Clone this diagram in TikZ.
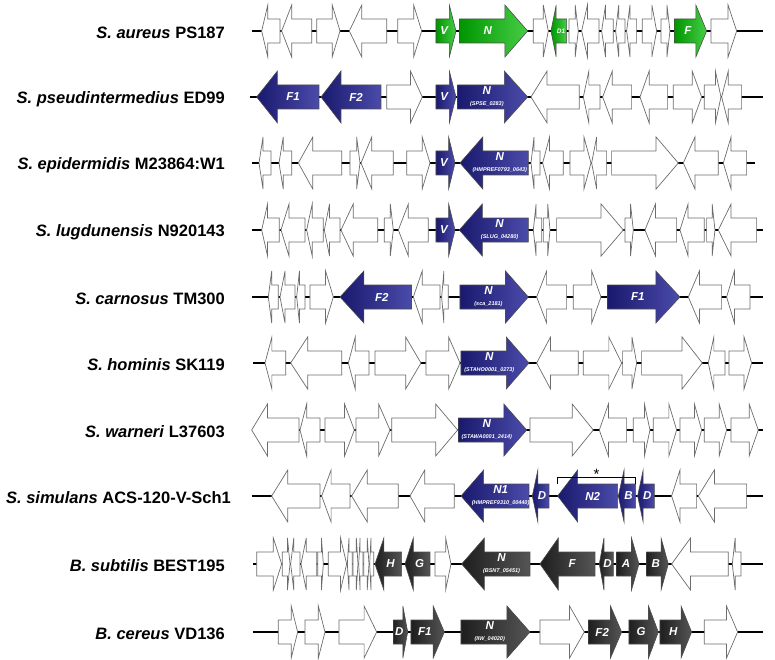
\documentclass[tikz,border=0pt]{standalone}
\usepackage{fontspec}
\setmainfont{Liberation Sans}
\usepackage{tikz}
\usepackage{xcolor}
\definecolor{geneGreenA}{RGB}{0, 150, 0}
\definecolor{geneGreenB}{RGB}{70, 205, 70}
\definecolor{geneBlueA}{RGB}{25, 25, 110}
\definecolor{geneBlueB}{RGB}{75, 75, 170}
\definecolor{geneGreyA}{RGB}{30, 30, 30}
\definecolor{geneGreyB}{RGB}{85, 85, 85}

\tikzset{
  plain/.style={draw=gray!85!black, fill=white, line width=0.7pt, line join=miter},
  greengene/.style={draw=gray!60!black, line width=0.6pt, left color=geneGreenA, right color=geneGreenB},
  bluegene/.style={draw=gray!60!black, line width=0.6pt, left color=geneBlueA, right color=geneBlueB},
  greygene/.style={draw=gray!60!black, line width=0.6pt, left color=geneGreyA, right color=geneGreyB},
  backbone/.style={line width=2.6pt, black},
  species/.style={anchor=east, inner sep=0pt, font=\fontsize{16.5}{20}\selectfont\bfseries},
  genetag/.style={text=white, inner sep=0pt, font=\fontsize{11.5}{12}\selectfont\bfseries\itshape},
  locustag/.style={text=white, inner sep=0pt, font=\fontsize{5.5}{6}\selectfont\bfseries\itshape}
}

% gene arrow from tail to tip, head is a third of the length
\newcommand{\orf}[3][plain]{%
  \pgfmathsetmacro{\hb}{#3-(#3-#2)/3}%
  \draw[#1] (#2,-12) -- (\hb,-12) -- (\hb,-26) -- (#3,0) -- (\hb,26) -- (\hb,12) -- (#2,12) -- cycle;}

% name, tail, tip, label, locus tag
\newcommand{\orftag}[5]{%
  \pgfmathsetmacro{\lx}{(#2+#3)/2-(#3-#2)/12}%
  \if\relax\detokenize{#5}\relax
    \node[genetag] (#1) at (\lx,0) {#4};
  \else
    \node[genetag] (#1) at (\lx,-6) {#4};
    \node[locustag] (#1-locus) at (\lx,7) {(#5)};
  \fi}

\begin{document}
\begin{tikzpicture}[x=1pt, y=-1pt]
    \useasboundingbox (0,0) rectangle (775,660);

    \node[species] (aureus) at (225,33) {\textit{S. aureus} PS187};
    \node[species] (pseud) at (225,99) {\textit{S. pseudintermedius} ED99};
    \node[species] (epid) at (225,165) {\textit{S. epidermidis} M23864:W1};
    \node[species] (lugd) at (225,232) {\textit{S. lugdunensis} N920143};
    \node[species] (carn) at (225,299) {\textit{S. carnosus} TM300};
    \node[species] (homin) at (225,365) {\textit{S. hominis} SK119};
    \node[species] (warn) at (225,432) {\textit{S. warneri} L37603};
    \node[species] (simul) at (231,498) {\textit{S. simulans} ACS-120-V-Sch1};
    \node[species] (subt) at (225,566) {\textit{B. subtilis} BEST195};
    \node[species] (cere) at (225,634) {\textit{B. cereus} VD136};

    % S. aureus
    \begin{scope}[shift={(245,31)}, x=0.3333pt]
        \draw[backbone] (20,0) -- (1555,0);
        \foreach \t/\p in {105/50, 200/110, 215/285, 425/313, 458/530, 865/910, 972/1000,
                           1062/1010, 1105/1070, 1140/1112, 1175/1145, 1192/1235, 1248/1275, 1398/1475}
            \orf{\t}{\p};
        \orf[greengene]{573}{633} \orftag{aurV}{573}{633}{V}{}
        \orf[greengene]{643}{848} \orftag{aurN}{643}{848}{N}{}
        \orf[greengene]{965}{918} \node[genetag, font=\fontsize{6.5}{7}\selectfont\bfseries\itshape] (aurD) at (948,0) {D1};
        \orf[greengene]{1288}{1385} \orftag{aurF}{1288}{1385}{F}{}
    \end{scope}

    % S. pseudintermedius
    \begin{scope}[shift={(245,97)}, x=0.3333pt]
        \draw[backbone] (15,0) -- (1555,0);
        \foreach \t/\p in {425/532, 1003/858, 1065/1015, 1160/1073, 1268/1185, 1285/1370, 1378/1428, 1490/1430}
            \orf{\t}{\p};
        \orf[bluegene]{222}{35} \orftag{psdF}{222}{35}{F1}{}
        \orf[bluegene]{408}{228} \orftag{psdFb}{408}{228}{F2}{}
        \orf[bluegene]{573}{633} \orftag{psdV}{573}{633}{V}{}
        \orf[bluegene]{638}{848} \orftag{psdN}{638}{848}{N}{SPSE\_0283}
    \end{scope}

    % S. epidermidis
    \begin{scope}[shift={(245,163)}, x=0.3333pt]
        \draw[backbone] (20,0) -- (1530,0);
        \foreach \t/\p in {78/42, 140/102, 290/160, 315/345, 445/348, 485/555, 885/858, 955/893,
                           975/1038, 1085/1040, 1100/1300, 1420/1315, 1505/1435}
            \orf{\t}{\p};
        \orf[bluegene]{573}{630} \orftag{epiV}{573}{630}{V}{}
        \orf[bluegene]{850}{645} \orftag{epiN}{850}{645}{N}{HMPREF0793\_0643}
    \end{scope}

    % S. lugdunensis
    \begin{scope}[shift={(245,230)}, x=0.3333pt]
        \draw[backbone] (20,0) -- (1555,0);
        \foreach \t/\p in {103/50, 180/108, 235/185, 285/238, 398/288, 418/445, 550/460, 890/865, 895/915,
                           935/1135, 1140/1165, 1295/1200, 1378/1305, 1385/1410, 1535/1420}
            \orf{\t}{\p};
        \orf[bluegene]{573}{630} \orftag{lugV}{573}{630}{V}{}
        \orf[bluegene]{850}{643} \orftag{lugN}{850}{643}{N}{SLUG\_04280}
    \end{scope}

    % S. carnosus
    \begin{scope}[shift={(245,297)}, x=0.3333pt]
        \draw[backbone] (20,0) -- (1555,0);
        \foreach \t/\p in {100/70, 150/105, 180/155, 195/265, 585/505, 610/590, 965/875, 985/1068, 1430/1330, 1515/1445}
            \orf{\t}{\p};
        \orf[bluegene]{500}{285} \orftag{carF}{500}{285}{F2}{}
        \orf[bluegene]{645}{850} \orftag{carN}{645}{850}{N}{sca\_2181}
        \orf[bluegene]{1088}{1305} \orftag{carFb}{1088}{1305}{F1}{}
    \end{scope}

    % S. hominis
    \begin{scope}[shift={(245,363)}, x=0.3333pt]
        \draw[backbone] (25,0) -- (1555,0);
        \foreach \t/\p in {122/60, 290/137, 372/310, 390/528, 543/645, 1000/875, 1015/1130, 1133/1175,
                           1190/1372, 1440/1390, 1452/1520}
            \orf{\t}{\p};
        \orf[bluegene]{648}{852} \orftag{homN}{648}{852}{N}{STAHO0001\_0273}
    \end{scope}

    % S. warneri
    \begin{scope}[shift={(245,430)}, x=0.3333pt]
        \draw[backbone] (20,0) -- (1555,0);
        \foreach \t/\p in {162/20, 225/165, 240/328, 333/435, 440/638, 855/1045, 1145/1063, 1165/1215,
                           1225/1295, 1305/1370, 1378/1445, 1458/1540}
            \orf{\t}{\p};
        \orf[bluegene]{640}{845} \orftag{warN}{640}{845}{N}{STAWA0001\_2414}
    \end{scope}

    % S. simulans
    \begin{scope}[shift={(245,496)}, x=0.3333pt]
        \draw[backbone] (20,0) -- (1555,0);
        \foreach \t/\p in {225/80, 315/230, 460/320, 628/495, 1355/1280, 1505/1360}
            \orf{\t}{\p};
        \orf[bluegene]{852}{648} \orftag{simN}{852}{648}{N1}{HMPREF9310\_00440}
        \orf[bluegene]{912}{862} \orftag{simD}{912}{862}{D}{}
        \orf[bluegene]{1118}{938} \orftag{simNb}{1118}{938}{N2}{}
        \orf[bluegene]{1172}{1120} \orftag{simB}{1172}{1120}{B}{}
        \orf[bluegene]{1228}{1178} \orftag{simDb}{1228}{1178}{D}{}
        \draw[line width=0.8pt] (938,-12) -- (938,-19) -- (1170,-19) -- (1170,-12);
        \node[anchor=south, inner sep=0pt, font=\fontsize{15}{15}\selectfont] (star) at (1055,-16) {*};
    \end{scope}

    % B. subtilis
    \begin{scope}[shift={(245,564)}, x=0.3333pt]
        \draw[backbone] (25,0) -- (1555,0);
        \foreach \t/\p in {35/110, 112/135, 165/137, 215/168, 218/235, 250/305, 322/307, 324/339,
                           354/341, 356/372, 386/374, 570/618, 1450/1280, 1488/1462}
            \orf{\t}{\p};
        \orf[greygene]{470}{390} \orftag{subH}{470}{390}{H}{}
        \orf[greygene]{555}{480} \orftag{subG}{555}{480}{G}{}
        \orf[greygene]{855}{650} \orftag{subN}{855}{650}{N}{BSNT\_05451}
        \orf[greygene]{1050}{885} \orftag{subF}{1050}{885}{F}{}
        \orf[greygene]{1105}{1063} \orftag{subD}{1105}{1063}{D}{}
        \orf[greygene]{1115}{1182} \orftag{subA}{1115}{1182}{A}{}
        \orf[greygene]{1205}{1270} \orftag{subB}{1205}{1270}{B}{}
    \end{scope}

    % B. cereus
    \begin{scope}[shift={(245,632)}, x=0.3333pt]
        \draw[backbone] (25,0) -- (1555,0);
        \foreach \t/\p in {100/158, 180/240, 282/395, 885/1018, 1378/1478}
            \orf{\t}{\p};
        \orf[greygene]{445}{488} \orftag{cerD}{445}{488}{D}{}
        \orf[greygene]{498}{598} \orftag{cerF}{498}{598}{F1}{}
        \orf[greygene]{648}{855} \orftag{cerN}{648}{855}{N}{IIW\_04020}
        \orf[greygene]{1030}{1130} \orftag{cerFb}{1030}{1130}{F2}{}
        \orf[greygene]{1152}{1240} \orftag{cerG}{1152}{1240}{G}{}
        \orf[greygene]{1245}{1340} \orftag{cerH}{1245}{1340}{H}{}
    \end{scope}
\end{tikzpicture}
\end{document}
